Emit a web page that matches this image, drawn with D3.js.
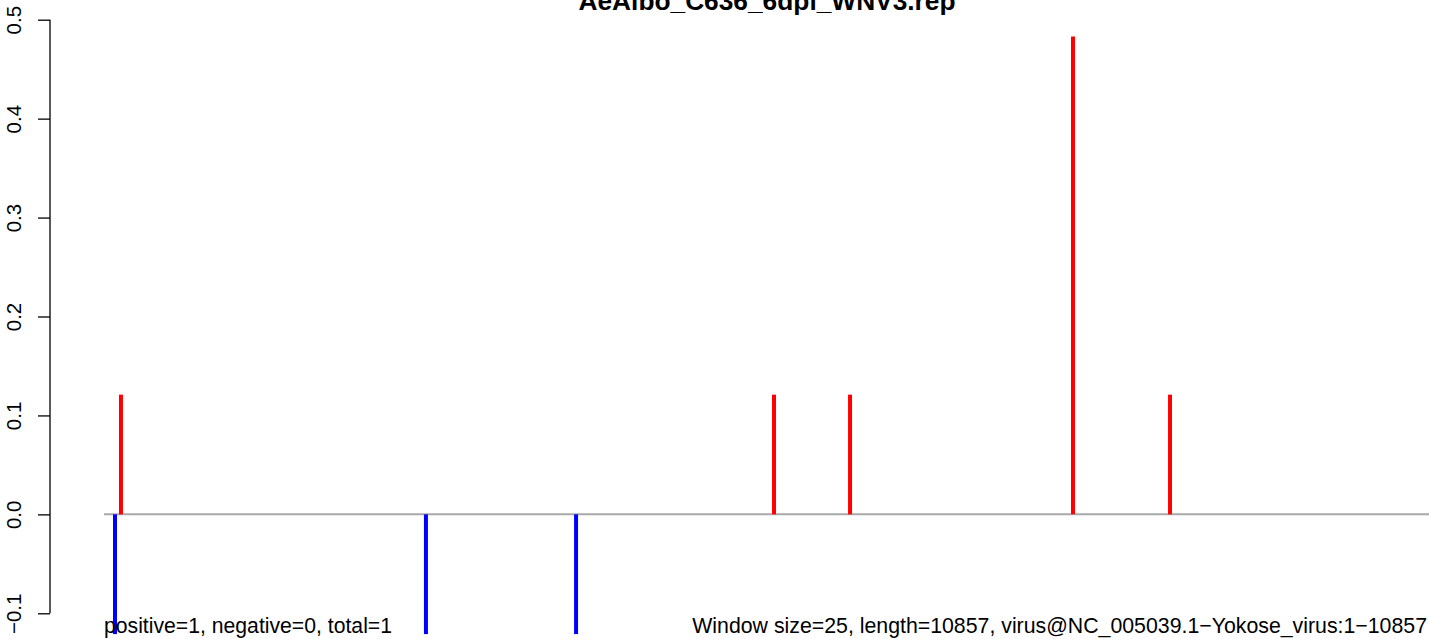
<!DOCTYPE html>
<html><head><meta charset="utf-8">
<script src="https://cdn.jsdelivr.net/npm/d3@7"></script>
<style>html,body{margin:0;padding:0;background:#fff;overflow:hidden}</style>
</head><body>
<svg id="c" width="1429" height="639"></svg>
<script>
const title = "AeAlbo_C636_6dpi_WNV3.rep";
const genomeLength = 10857;
const posPositions = [139, 5490, 6113, 7940, 8735];
const posValues = [0.121, 0.121, 0.121, 0.483, 0.121];
const negPositions = [90, 2638, 3868];
const negValues = [-0.121, -0.121, -0.121];
const yTicks = [-0.1, 0.0, 0.1, 0.2, 0.3, 0.4, 0.5];
const leftNote = "positive=1, negative=0, total=1";
const rightNote = "Window size=25, length=10857, virus@NC_005039.1\u2212Yokose_virus:1\u221210857";

const svg = d3.select("#c");
const font = "'Liberation Sans', Arial, sans-serif";
const x = d3.scaleLinear().domain([0, genomeLength]).range([104, 1429]);
const y = d3.scaleLinear().domain([-0.1, 0.5]).range([613.3, 19.7]);

// zero line
svg.append("line").attr("x1", x(0)).attr("x2", x(genomeLength) + 10)
  .attr("y1", y(0)).attr("y2", y(0)).attr("stroke", "#A9A9A9").attr("stroke-width", 2);

svg.selectAll("line.pos").data(posPositions).enter().append("line").attr("class", "pos")
  .attr("x1", d => x(d)).attr("x2", d => x(d))
  .attr("y1", y(0)).attr("y2", (d, i) => y(posValues[i]))
  .attr("stroke", "#FF0000").attr("stroke-width", 4);

svg.selectAll("line.neg").data(negPositions).enter().append("line").attr("class", "neg")
  .attr("x1", d => x(d)).attr("x2", d => x(d))
  .attr("y1", y(0)).attr("y2", (d, i) => y(negValues[i]))
  .attr("stroke", "#0000FF").attr("stroke-width", 4);

// y axis
const axis = d3.axisLeft(y).tickValues(yTicks).tickSize(12)
  .tickFormat(d => d3.format(".1f")(d).replace("-", "\u2212"));
const g = svg.append("g").attr("transform", "translate(50,0)").call(axis);
g.select(".domain").attr("d", `M0,${y(0.5)}V${y(-0.1)}`).attr("stroke", "#000").attr("stroke-width", 1.3);
g.selectAll(".tick line").attr("stroke", "#000").attr("stroke-width", 1.3);
g.selectAll(".tick text").attr("font-family", font).attr("font-size", 20.5).attr("fill", "#000")
  .attr("text-anchor", "middle").attr("dy", null).attr("x", null)
  .attr("transform", "translate(-34,0) rotate(-90)").attr("dominant-baseline", "middle");

svg.append("text").attr("x", 767).attr("y", 10).attr("text-anchor", "middle")
  .attr("font-family", font).attr("font-weight", "bold").attr("font-size", 26.3).text(title);

svg.append("text").attr("x", 104).attr("y", 633).attr("font-family", font)
  .attr("font-size", 21.2).text(leftNote);
svg.append("text").attr("x", 1427).attr("y", 633).attr("text-anchor", "end")
  .attr("font-family", font).attr("font-size", 21.3).text(rightNote);
</script>
</body></html>
